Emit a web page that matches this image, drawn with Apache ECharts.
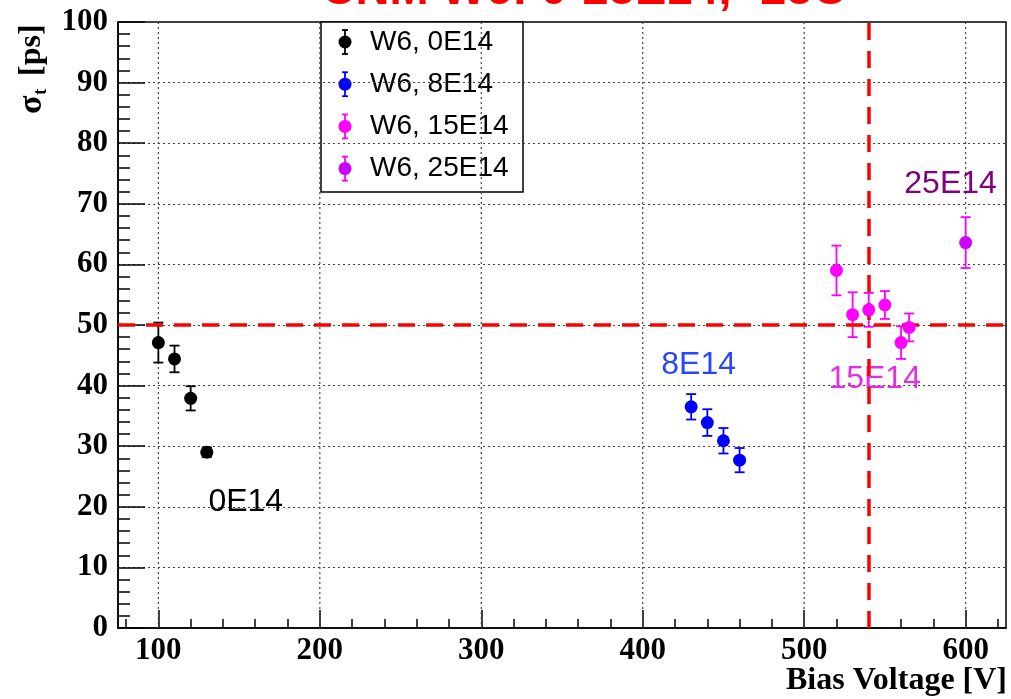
<!DOCTYPE html>
<html>
<head>
<meta charset="utf-8">
<title>CNM W6 time resolution vs bias voltage</title>
<script src="https://cdn.jsdelivr.net/npm/echarts@6/dist/echarts.min.js"></script>
<style>
  html, body { margin: 0; padding: 0; background: #ffffff; }
  #chart { width: 1011px; height: 699px; }
</style>
</head>
<body>
<div id="chart"></div>
<script>
// ---- measurements: time resolution sigma_t [ps] vs bias voltage [V] ----
const seriesNames = ['W6, 0E14', 'W6, 8E14', 'W6, 15E14', 'W6, 25E14'];

const voltage0 = [100, 110, 120, 130];
const sigma0   = [47.1, 44.4, 37.9, 29.0];
const err0     = [3.3, 2.2, 2.0, 0.8];

const voltage8 = [430, 440, 450, 460];
const sigma8   = [36.5, 33.9, 30.9, 27.7];
const err8     = [2.1, 2.2, 2.1, 2.0];

const voltage15 = [520, 530, 540, 550, 560, 565];
const sigma15   = [59.0, 51.7, 52.5, 53.3, 47.1, 49.6];
const err15     = [4.1, 3.7, 2.8, 2.3, 2.7, 2.3];

const voltage25 = [600];
const sigma25   = [63.6];
const err25     = [4.2];

// reference limits drawn as red dashed lines
const limitSigma = 50;
const limitVoltage = 540;

// axis ticks
const xMajorTicks = [100, 200, 300, 400, 500, 600];
const xMinorTicks = [80, 120, 140, 160, 180, 220, 240, 260, 280, 320, 340, 360, 380,
                     420, 440, 460, 480, 520, 540, 560, 580, 620];

// fluence tags written next to each group
const fluenceTags = ['0E14', '8E14', '15E14', '25E14'];

const titleText = 'CNM W6: 0-25E14, -25C';
const xTitle = 'Bias Voltage [V]';

// ---- styling ----
const serif = '"Liberation Serif", "Times New Roman", serif';
const sans = '"Liberation Sans", Arial, sans-serif';

const groups = [
  { name: seriesNames[0], x: voltage0,  y: sigma0,  e: err0,  marker: '#000000', bar: '#000000' },
  { name: seriesNames[1], x: voltage8,  y: sigma8,  e: err8,  marker: '#0000ff', bar: '#0000ff' },
  { name: seriesNames[2], x: voltage15, y: sigma15, e: err15, marker: '#ff00ff', bar: '#ff00ff' },
  { name: seriesNames[3], x: voltage25, y: sigma25, e: err25, marker: '#cc00ff', bar: '#ff00ff' }
];

// tag placement in data units (left edge, vertical centre)
const tagStyle = [
  { at: [131, 20.8], color: '#000000' },
  { at: [411.5, 43.4], color: '#2a45ff' },
  { at: [515, 41.0], color: '#e22fe2' },
  { at: [562, 73.2], color: '#800080' }
];

const chart = echarts.init(document.getElementById('chart'), null, { renderer: 'canvas' });

const series = [];

// dotted vertical grid lines at the major voltage ticks
series.push({
  type: 'custom',
  name: 'xgrid',
  silent: true,
  z: 1,
  clip: false,
  data: xMajorTicks.map(v => [v, 0]),
  encode: { x: 0, y: 1 },
  renderItem: (params, api) => {
    const cs = params.coordSys;
    const px = api.coord([api.value(0), 0])[0];
    return {
      type: 'line',
      shape: { x1: px, y1: cs.y, x2: px, y2: cs.y + cs.height },
      style: { stroke: '#444444', lineWidth: 1.2, lineDash: [2, 3] }
    };
  }
});

// fluence tags
series.push({
  type: 'custom',
  name: 'tags',
  silent: true,
  z: 2,
  clip: false,
  data: tagStyle.map(t => t.at),
  encode: { x: 0, y: 1 },
  renderItem: (params, api) => {
    const p = api.coord([api.value(0), api.value(1)]);
    const i = params.dataIndex;
    return {
      type: 'text',
      x: p[0],
      y: p[1],
      style: {
        text: fluenceTags[i],
        fill: tagStyle[i].color,
        font: '32px ' + sans,
        align: 'left', textAlign: 'left',
        verticalAlign: 'middle', textVerticalAlign: 'middle'
      }
    };
  }
});

// red dashed reference lines
series.push({
  type: 'scatter',
  name: 'limits',
  silent: true,
  symbolSize: 0,
  z: 3,
  data: [[limitVoltage, limitSigma]],
  markLine: {
    silent: true,
    symbol: ['none', 'none'],
    label: { show: false },
    animation: false,
    lineStyle: { color: '#ff0000', width: 3.5, type: [17, 11] },
    data: [{ yAxis: limitSigma }, { xAxis: limitVoltage }]
  }
});

// error bars and markers for every fluence
groups.forEach(g => {
  series.push({
    type: 'custom',
    name: g.name + ' err',
    silent: true,
    z: 4,
    data: g.x.map((v, i) => [v, g.y[i], g.e[i]]),
    encode: { x: 0, y: 1 },
    renderItem: (params, api) => {
      const x = api.value(0), y = api.value(1), e = api.value(2);
      const top = api.coord([x, y + e]);
      const bot = api.coord([x, y - e]);
      const cap = 5;
      const style = { stroke: g.bar, lineWidth: 1.8 };
      return {
        type: 'group',
        children: [
          { type: 'line', shape: { x1: top[0], y1: top[1], x2: bot[0], y2: bot[1] }, style },
          { type: 'line', shape: { x1: top[0] - cap, y1: top[1], x2: top[0] + cap, y2: top[1] }, style },
          { type: 'line', shape: { x1: bot[0] - cap, y1: bot[1], x2: bot[0] + cap, y2: bot[1] }, style }
        ]
      };
    }
  });
  series.push({
    type: 'scatter',
    name: g.name,
    z: 5,
    symbol: 'circle',
    symbolSize: 13,
    itemStyle: { color: g.marker, opacity: 1 },
    data: g.x.map((v, i) => [v, g.y[i]])
  });
});

// legend box drawn with graphic elements
const legendChildren = [{
  type: 'rect',
  shape: { x: 321, y: 22, width: 202, height: 170 },
  style: { fill: '#ffffff', stroke: '#000000', lineWidth: 1.5 }
}];
groups.forEach((g, i) => {
  const cy = 42 + i * 42.2;
  const cx = 345;
  const st = { stroke: g.bar, lineWidth: 1.8 };
  legendChildren.push(
    { type: 'line', shape: { x1: cx, y1: cy - 12, x2: cx, y2: cy + 12 }, style: st },
    { type: 'line', shape: { x1: cx - 3, y1: cy - 12, x2: cx + 3, y2: cy - 12 }, style: st },
    { type: 'line', shape: { x1: cx - 3, y1: cy + 12, x2: cx + 3, y2: cy + 12 }, style: st },
    { type: 'circle', shape: { cx: cx, cy: cy, r: 6.5 }, style: { fill: g.marker } },
    {
      type: 'text', x: 370, y: cy,
      style: {
        text: g.name, fill: '#000000', font: '28px ' + sans,
        align: 'left', textAlign: 'left', verticalAlign: 'middle', textVerticalAlign: 'middle'
      }
    }
  );
});

const option = {
  animation: false,
  backgroundColor: '#ffffff',
  grid: {
    left: 118, right: 5, top: 22, bottom: 71,
    show: true, borderColor: '#000000', borderWidth: 1.5,
    containLabel: false, outerBoundsMode: 'none'
  },
  xAxis: [
    {
      type: 'value', min: 75, max: 625, position: 'bottom',
      axisLine: { show: true, onZero: false, lineStyle: { color: '#000000', width: 1.5 } },
      axisTick: { show: true, inside: true, length: 18, customValues: xMajorTicks,
                  lineStyle: { color: '#000000', width: 1.5 } },
      axisLabel: { show: true, customValues: xMajorTicks, margin: 7, color: '#000000',
                   fontFamily: serif, fontWeight: 'bold', fontSize: 31 },
      splitLine: { show: false },
      minorTick: { show: false }
    },
    {
      type: 'value', min: 75, max: 625, position: 'bottom',
      axisLine: { show: false },
      axisTick: { show: true, inside: true, length: 9, customValues: xMinorTicks,
                  lineStyle: { color: '#000000', width: 1.5 } },
      axisLabel: { show: false },
      splitLine: { show: false }
    }
  ],
  yAxis: {
    type: 'value', min: 0, max: 100, interval: 10,
    axisLine: { show: true, onZero: false, lineStyle: { color: '#000000', width: 1.5 } },
    axisTick: { show: true, inside: true, length: 27, lineStyle: { color: '#000000', width: 1.5 } },
    minorTick: { show: true, splitNumber: 5, length: 12, lineStyle: { color: '#000000', width: 1.5 } },
    axisLabel: { margin: 10, color: '#000000', fontFamily: serif, fontWeight: 'bold', fontSize: 31 },
    splitLine: { show: true, lineStyle: { color: '#444444', width: 1.2, type: [2, 3] } }
  },
  series: series,
  graphic: [
    {
      type: 'text', x: 584, y: -9, z: 100,
      style: {
        text: titleText, fill: '#ff0000', font: 'bold 47px ' + sans,
        align: 'center', textAlign: 'center', verticalAlign: 'middle', textVerticalAlign: 'middle'
      }
    },
    {
      type: 'text', x: 1007, y: 681, z: 100,
      style: {
        text: xTitle, fill: '#000000', font: 'bold 32px ' + serif,
        align: 'right', textAlign: 'right', verticalAlign: 'middle', textVerticalAlign: 'middle'
      }
    },
    {
      type: 'group', x: 32, y: 114, rotation: Math.PI / 2, z: 100,
      children: [
        { type: 'text', x: 0, y: 0,
          style: { text: 'σ', fill: '#000000', font: 'bold 34px ' + serif,
                   align: 'left', textAlign: 'left', verticalAlign: 'middle', textVerticalAlign: 'middle' } },
        { type: 'text', x: 19, y: 9,
          style: { text: 't', fill: '#000000', font: 'bold 19px ' + serif,
                   align: 'left', textAlign: 'left', verticalAlign: 'middle', textVerticalAlign: 'middle' } },
        { type: 'text', x: 38, y: 0,
          style: { text: '[ps]', fill: '#000000', font: 'bold 32px ' + serif,
                   align: 'left', textAlign: 'left', verticalAlign: 'middle', textVerticalAlign: 'middle' } }
      ]
    },
    {
      type: 'group', z: 100,
      children: legendChildren
    }
  ]
};

chart.setOption(option);
</script>
</body>
</html>
